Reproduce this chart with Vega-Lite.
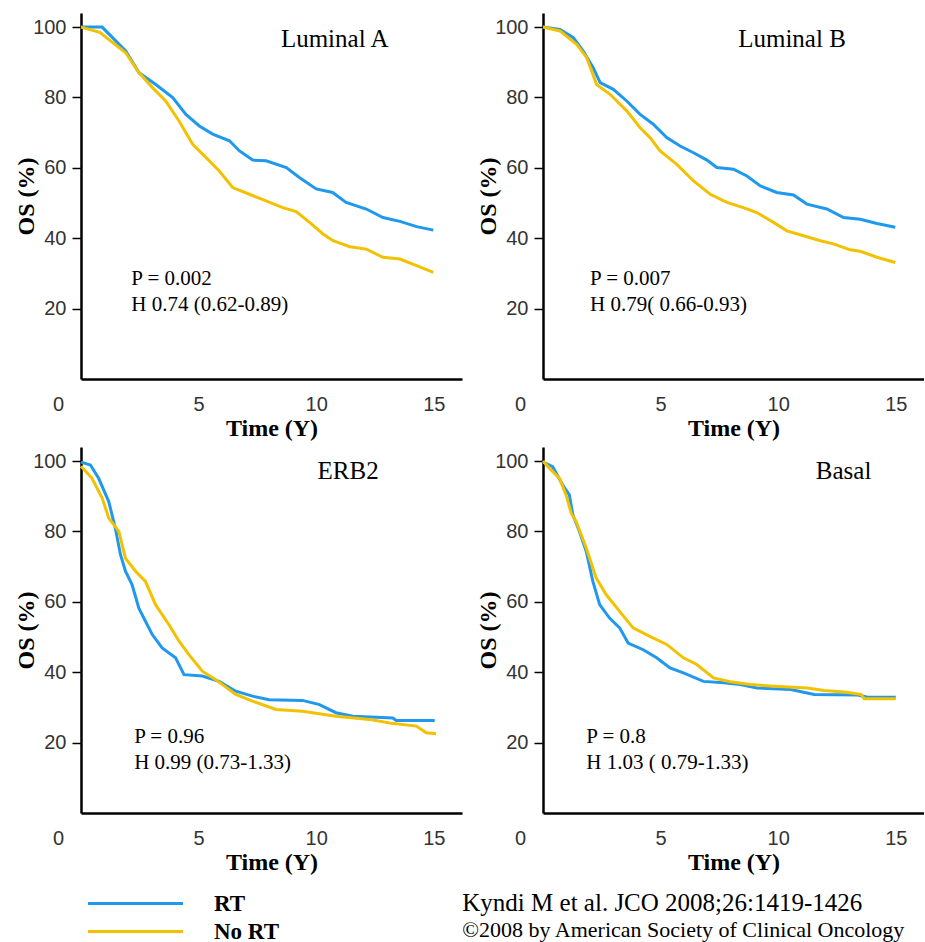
{
 "$schema": "https://vega.github.io/schema/vega-lite/v6.json",
 "padding": {"left": 14, "top": 12, "right": 0, "bottom": 0},
 "background": "white",
 "datasets": {
  "km": [
   {"p":"Luminal A","g":"RT","t":0,"s":100},{"p":"Luminal A","g":"RT","t":0.9,"s":100},{"p":"Luminal A","g":"RT","t":1.9,"s":93.2},{"p":"Luminal A","g":"RT","t":2.47,"s":87},{"p":"Luminal A","g":"RT","t":3.18,"s":83.7},{"p":"Luminal A","g":"RT","t":3.9,"s":80},{"p":"Luminal A","g":"RT","t":4.46,"s":75.2},{"p":"Luminal A","g":"RT","t":5.03,"s":71.9},{"p":"Luminal A","g":"RT","t":5.6,"s":69.6},{"p":"Luminal A","g":"RT","t":6.31,"s":67.7},{"p":"Luminal A","g":"RT","t":6.74,"s":64.8},{"p":"Luminal A","g":"RT","t":7.3,"s":62.2},{"p":"Luminal A","g":"RT","t":7.87,"s":62},{"p":"Luminal A","g":"RT","t":8.73,"s":60.1},{"p":"Luminal A","g":"RT","t":9.3,"s":57.2},{"p":"Luminal A","g":"RT","t":10.0,"s":54},{"p":"Luminal A","g":"RT","t":10.7,"s":53},{"p":"Luminal A","g":"RT","t":11.27,"s":50.2},{"p":"Luminal A","g":"RT","t":12.13,"s":48.3},{"p":"Luminal A","g":"RT","t":12.84,"s":45.9},{"p":"Luminal A","g":"RT","t":13.56,"s":44.8},{"p":"Luminal A","g":"RT","t":14.27,"s":43.3},{"p":"Luminal A","g":"RT","t":14.98,"s":42.3},
   {"p":"Luminal B","g":"RT","t":0,"s":100},{"p":"Luminal B","g":"RT","t":0.72,"s":99.3},{"p":"Luminal B","g":"RT","t":1.29,"s":97},{"p":"Luminal B","g":"RT","t":1.71,"s":93.2},{"p":"Luminal B","g":"RT","t":2.14,"s":88.4},{"p":"Luminal B","g":"RT","t":2.43,"s":84.2},{"p":"Luminal B","g":"RT","t":2.99,"s":82.3},{"p":"Luminal B","g":"RT","t":3.56,"s":79},{"p":"Luminal B","g":"RT","t":4.13,"s":75.2},{"p":"Luminal B","g":"RT","t":4.69,"s":72.4},{"p":"Luminal B","g":"RT","t":5.26,"s":68.6},{"p":"Luminal B","g":"RT","t":5.83,"s":66.2},{"p":"Luminal B","g":"RT","t":6.4,"s":64.3},{"p":"Luminal B","g":"RT","t":6.97,"s":62.2},{"p":"Luminal B","g":"RT","t":7.39,"s":60.1},{"p":"Luminal B","g":"RT","t":8.1,"s":59.6},{"p":"Luminal B","g":"RT","t":8.67,"s":57.7},{"p":"Luminal B","g":"RT","t":9.23,"s":54.9},{"p":"Luminal B","g":"RT","t":9.94,"s":53},{"p":"Luminal B","g":"RT","t":10.65,"s":52.3},{"p":"Luminal B","g":"RT","t":11.22,"s":49.7},{"p":"Luminal B","g":"RT","t":12.07,"s":48.3},{"p":"Luminal B","g":"RT","t":12.78,"s":45.9},{"p":"Luminal B","g":"RT","t":13.49,"s":45.4},{"p":"Luminal B","g":"RT","t":14.2,"s":44.2},{"p":"Luminal B","g":"RT","t":14.98,"s":43.1},
   {"p":"ERB2","g":"RT","t":0,"s":99.7},{"p":"ERB2","g":"RT","t":0.4,"s":98.9},{"p":"ERB2","g":"RT","t":0.75,"s":95.1},{"p":"ERB2","g":"RT","t":1.18,"s":88.5},{"p":"ERB2","g":"RT","t":1.46,"s":80.9},{"p":"ERB2","g":"RT","t":1.68,"s":73.4},{"p":"ERB2","g":"RT","t":1.89,"s":68.7},{"p":"ERB2","g":"RT","t":2.17,"s":64.9},{"p":"ERB2","g":"RT","t":2.46,"s":58.2},{"p":"ERB2","g":"RT","t":2.74,"s":54.5},{"p":"ERB2","g":"RT","t":3.03,"s":50.7},{"p":"ERB2","g":"RT","t":3.45,"s":46.9},{"p":"ERB2","g":"RT","t":4.02,"s":44.1},{"p":"ERB2","g":"RT","t":4.38,"s":39.3},{"p":"ERB2","g":"RT","t":5.16,"s":38.9},{"p":"ERB2","g":"RT","t":5.87,"s":37.4},{"p":"ERB2","g":"RT","t":6.58,"s":34.6},{"p":"ERB2","g":"RT","t":7.29,"s":33.2},{"p":"ERB2","g":"RT","t":8.0,"s":32.2},{"p":"ERB2","g":"RT","t":9.42,"s":32.0},{"p":"ERB2","g":"RT","t":10.14,"s":30.8},{"p":"ERB2","g":"RT","t":10.84,"s":28.5},{"p":"ERB2","g":"RT","t":11.56,"s":27.5},{"p":"ERB2","g":"RT","t":13.26,"s":27.0},{"p":"ERB2","g":"RT","t":13.4,"s":26.3},{"p":"ERB2","g":"RT","t":15.04,"s":26.3},
   {"p":"Basal","g":"RT","t":0,"s":99.7},{"p":"Basal","g":"RT","t":0.41,"s":98.4},{"p":"Basal","g":"RT","t":0.84,"s":93.2},{"p":"Basal","g":"RT","t":1.12,"s":90.4},{"p":"Basal","g":"RT","t":1.27,"s":84.7},{"p":"Basal","g":"RT","t":1.55,"s":80},{"p":"Basal","g":"RT","t":1.84,"s":74.3},{"p":"Basal","g":"RT","t":2.12,"s":65.8},{"p":"Basal","g":"RT","t":2.41,"s":59.2},{"p":"Basal","g":"RT","t":2.83,"s":55.4},{"p":"Basal","g":"RT","t":3.26,"s":52.6},{"p":"Basal","g":"RT","t":3.62,"s":48.3},{"p":"Basal","g":"RT","t":4.26,"s":46.4},{"p":"Basal","g":"RT","t":4.83,"s":44.1},{"p":"Basal","g":"RT","t":5.4,"s":41.2},{"p":"Basal","g":"RT","t":5.97,"s":39.8},{"p":"Basal","g":"RT","t":6.82,"s":37.4},{"p":"Basal","g":"RT","t":7.68,"s":37},{"p":"Basal","g":"RT","t":8.39,"s":36.5},{"p":"Basal","g":"RT","t":9.1,"s":35.5},{"p":"Basal","g":"RT","t":10.53,"s":35.1},{"p":"Basal","g":"RT","t":11.53,"s":33.7},{"p":"Basal","g":"RT","t":13.38,"s":33.5},{"p":"Basal","g":"RT","t":13.8,"s":32.9},{"p":"Basal","g":"RT","t":15.0,"s":32.9},
   {"p":"Luminal A","g":"No RT","t":0,"s":100},{"p":"Luminal A","g":"No RT","t":0.8,"s":98.5},{"p":"Luminal A","g":"No RT","t":1.9,"s":92.7},{"p":"Luminal A","g":"No RT","t":2.47,"s":87},{"p":"Luminal A","g":"No RT","t":3.04,"s":82.8},{"p":"Luminal A","g":"No RT","t":3.6,"s":79},{"p":"Luminal A","g":"No RT","t":4.17,"s":73.3},{"p":"Luminal A","g":"No RT","t":4.75,"s":66.7},{"p":"Luminal A","g":"No RT","t":5.32,"s":62.9},{"p":"Luminal A","g":"No RT","t":5.88,"s":59.1},{"p":"Luminal A","g":"No RT","t":6.45,"s":54.4},{"p":"Luminal A","g":"No RT","t":7.16,"s":52.5},{"p":"Luminal A","g":"No RT","t":7.87,"s":50.6},{"p":"Luminal A","g":"No RT","t":8.58,"s":48.7},{"p":"Luminal A","g":"No RT","t":9.15,"s":47.6},{"p":"Luminal A","g":"No RT","t":9.72,"s":44.5},{"p":"Luminal A","g":"No RT","t":10.29,"s":41.2},{"p":"Luminal A","g":"No RT","t":10.72,"s":39.3},{"p":"Luminal A","g":"No RT","t":11.43,"s":37.6},{"p":"Luminal A","g":"No RT","t":12.13,"s":36.9},{"p":"Luminal A","g":"No RT","t":12.84,"s":34.6},{"p":"Luminal A","g":"No RT","t":13.56,"s":34.1},{"p":"Luminal A","g":"No RT","t":14.27,"s":32.2},{"p":"Luminal A","g":"No RT","t":14.98,"s":30.3},
   {"p":"Luminal B","g":"No RT","t":0,"s":100},{"p":"Luminal B","g":"No RT","t":0.72,"s":98.9},{"p":"Luminal B","g":"No RT","t":1.43,"s":95.1},{"p":"Luminal B","g":"No RT","t":1.86,"s":91.3},{"p":"Luminal B","g":"No RT","t":2.28,"s":83.7},{"p":"Luminal B","g":"No RT","t":2.85,"s":80.9},{"p":"Luminal B","g":"No RT","t":3.56,"s":76.2},{"p":"Luminal B","g":"No RT","t":4.13,"s":71.4},{"p":"Luminal B","g":"No RT","t":4.55,"s":68.6},{"p":"Luminal B","g":"No RT","t":4.98,"s":64.8},{"p":"Luminal B","g":"No RT","t":5.69,"s":61},{"p":"Luminal B","g":"No RT","t":6.4,"s":56.3},{"p":"Luminal B","g":"No RT","t":7.11,"s":52.5},{"p":"Luminal B","g":"No RT","t":7.82,"s":50.2},{"p":"Luminal B","g":"No RT","t":8.52,"s":48.7},{"p":"Luminal B","g":"No RT","t":9.09,"s":47.3},{"p":"Luminal B","g":"No RT","t":9.8,"s":44.5},{"p":"Luminal B","g":"No RT","t":10.37,"s":42.1},{"p":"Luminal B","g":"No RT","t":11.08,"s":40.7},{"p":"Luminal B","g":"No RT","t":11.79,"s":39.3},{"p":"Luminal B","g":"No RT","t":12.35,"s":38.4},{"p":"Luminal B","g":"No RT","t":13.06,"s":36.7},{"p":"Luminal B","g":"No RT","t":13.49,"s":36.3},{"p":"Luminal B","g":"No RT","t":14.2,"s":34.6},{"p":"Luminal B","g":"No RT","t":14.98,"s":33.1},
   {"p":"ERB2","g":"No RT","t":0,"s":98.5},{"p":"ERB2","g":"No RT","t":0.47,"s":95.1},{"p":"ERB2","g":"No RT","t":0.9,"s":89.5},{"p":"ERB2","g":"No RT","t":1.18,"s":83.8},{"p":"ERB2","g":"No RT","t":1.61,"s":80},{"p":"ERB2","g":"No RT","t":1.89,"s":72.4},{"p":"ERB2","g":"No RT","t":2.32,"s":68.7},{"p":"ERB2","g":"No RT","t":2.74,"s":65.8},{"p":"ERB2","g":"No RT","t":3.17,"s":59.2},{"p":"ERB2","g":"No RT","t":3.74,"s":53.5},{"p":"ERB2","g":"No RT","t":4.17,"s":48.8},{"p":"ERB2","g":"No RT","t":4.59,"s":45},{"p":"ERB2","g":"No RT","t":5.16,"s":40.3},{"p":"ERB2","g":"No RT","t":5.73,"s":37.9},{"p":"ERB2","g":"No RT","t":6.58,"s":33.7},{"p":"ERB2","g":"No RT","t":7.29,"s":31.8},{"p":"ERB2","g":"No RT","t":8.29,"s":29.4},{"p":"ERB2","g":"No RT","t":9.42,"s":28.9},{"p":"ERB2","g":"No RT","t":10.84,"s":27.5},{"p":"ERB2","g":"No RT","t":12.27,"s":26.6},{"p":"ERB2","g":"No RT","t":13.12,"s":25.6},{"p":"ERB2","g":"No RT","t":14.26,"s":24.7},{"p":"ERB2","g":"No RT","t":14.68,"s":22.8},{"p":"ERB2","g":"No RT","t":15.1,"s":22.5},
   {"p":"Basal","g":"No RT","t":0,"s":100},{"p":"Basal","g":"No RT","t":0.27,"s":98},{"p":"Basal","g":"No RT","t":0.7,"s":95.1},{"p":"Basal","g":"No RT","t":0.98,"s":90.4},{"p":"Basal","g":"No RT","t":1.2,"s":85.2},{"p":"Basal","g":"No RT","t":1.41,"s":82.8},{"p":"Basal","g":"No RT","t":1.84,"s":75.3},{"p":"Basal","g":"No RT","t":2.26,"s":66.8},{"p":"Basal","g":"No RT","t":2.69,"s":62},{"p":"Basal","g":"No RT","t":3.26,"s":57.3},{"p":"Basal","g":"No RT","t":3.83,"s":52.6},{"p":"Basal","g":"No RT","t":4.54,"s":50.2},{"p":"Basal","g":"No RT","t":5.26,"s":47.9},{"p":"Basal","g":"No RT","t":5.97,"s":44.1},{"p":"Basal","g":"No RT","t":6.54,"s":42.2},{"p":"Basal","g":"No RT","t":7.25,"s":38.4},{"p":"Basal","g":"No RT","t":7.96,"s":37.3},{"p":"Basal","g":"No RT","t":8.82,"s":36.5},{"p":"Basal","g":"No RT","t":9.82,"s":36},{"p":"Basal","g":"No RT","t":11.24,"s":35.5},{"p":"Basal","g":"No RT","t":11.95,"s":34.8},{"p":"Basal","g":"No RT","t":12.81,"s":34.4},{"p":"Basal","g":"No RT","t":13.52,"s":33.7},{"p":"Basal","g":"No RT","t":13.66,"s":32.5},{"p":"Basal","g":"No RT","t":15.0,"s":32.5},
   {"p":"Luminal A","k":"name","t":8.5,"s":96.6,"txt":"Luminal A"},
   {"p":"Luminal A","k":"stat","t":2.14,"s":28.5,"txt":"P = 0.002"},
   {"p":"Luminal A","k":"stat","t":2.14,"s":20.9,"txt":"H 0.74 (0.62-0.89)"},
   {"p":"Luminal B","k":"name","t":8.3,"s":96.6,"txt":"Luminal B"},
   {"p":"Luminal B","k":"stat","t":2.0,"s":28.5,"txt":"P = 0.007"},
   {"p":"Luminal B","k":"stat","t":2.0,"s":20.9,"txt":"H 0.79( 0.66-0.93)"},
   {"p":"ERB2","k":"name","t":10.06,"s":97.3,"txt":"ERB2"},
   {"p":"ERB2","k":"stat","t":2.26,"s":21.6,"txt":"P = 0.96"},
   {"p":"ERB2","k":"stat","t":2.26,"s":14.2,"txt":"H 0.99 (0.73-1.33)"},
   {"p":"Basal","k":"name","t":11.6,"s":97.3,"txt":"Basal"},
   {"p":"Basal","k":"stat","t":1.84,"s":21.6,"txt":"P = 0.8"},
   {"p":"Basal","k":"stat","t":1.84,"s":14.2,"txt":"H 1.03 ( 0.79-1.33)"}
  ]
 },
 "data": {"name": "km"},
 "facet": {"field": "p", "type": "nominal", "sort": ["Luminal A", "Luminal B", "ERB2", "Basal"], "title": null,
  "header": {"labels": false, "title": null, "labelPadding": 0, "titlePadding": 0, "labelFontSize": 0.01, "labelColor": "transparent", "labelExpr": "''"}},
 "columns": 2,
 "spacing": {"row": 6, "column": 14},
 "resolve": {"axis": {"x": "independent", "y": "independent"}},
 "spec": {
  "width": 381,
  "height": 366,
  "layer": [
   {
    "transform": [{"filter": "datum.g != null"}],
    "mark": {"type": "line", "strokeWidth": 3, "interpolate": "linear"},
    "encoding": {
     "x": {"field": "t", "type": "quantitative", "scale": {"domain": [0, 16.2], "nice": false, "zero": false},
      "axis": {"title": "Time (Y)", "values": [0, 5, 10, 15], "ticks": false, "grid": false, "labelPadding": 15, "labelFlush": false,
       "labelOffset": {"condition": {"test": "datum.value === 0", "value": -23}, "value": 0},
       "labelFont": "Liberation Sans", "labelFontSize": 20, "labelColor": "#333333",
       "domainColor": "black", "domainWidth": 2.5,
       "titleFont": "Liberation Serif", "titleFontWeight": "bold", "titleFontSize": 24, "titleColor": "black", "titlePadding": 2}},
     "y": {"field": "s", "type": "quantitative", "scale": {"domain": [0, 104], "nice": false},
      "axis": {"title": "OS (%)", "values": [20, 40, 60, 80, 100], "grid": false, "tickSize": 9, "tickWidth": 1.5, "tickColor": "black", "labelPadding": 6,
       "labelFont": "Liberation Sans", "labelFontSize": 20, "labelColor": "#333333",
       "domainColor": "black", "domainWidth": 2.5,
       "titleFont": "Liberation Serif", "titleFontWeight": "bold", "titleFontSize": 24, "titleColor": "black", "titlePadding": -6}},
     "color": {"field": "g", "type": "nominal", "scale": {"domain": ["RT", "No RT"], "range": ["#1F98EE", "#F2C100"]},
      "legend": {"orient": "none", "legendX": 43, "legendY": 879, "title": null, "symbolType": "M-5,0H5", "symbolSize": 361, "symbolStrokeWidth": 3,
       "labelFont": "Liberation Serif", "labelFontWeight": "bold", "labelFontSize": 23, "labelColor": "black", "labelOffset": 67, "rowPadding": 4, "padding": 0}}
    }
   },
   {
    "transform": [{"filter": "datum.k == 'name'"}],
    "mark": {"type": "text", "align": "left", "baseline": "middle", "font": "Liberation Serif", "fontSize": 25, "color": "black"},
    "encoding": {
     "x": {"field": "t", "type": "quantitative", "scale": {"domain": [0, 16.2], "nice": false, "zero": false}},
     "y": {"field": "s", "type": "quantitative", "scale": {"domain": [0, 104], "nice": false}},
     "text": {"field": "txt"}
    }
   },
   {
    "transform": [{"filter": "datum.k == 'stat'"}],
    "mark": {"type": "text", "align": "left", "baseline": "middle", "font": "Liberation Serif", "fontSize": 21, "color": "black"},
    "encoding": {
     "x": {"field": "t", "type": "quantitative", "scale": {"domain": [0, 16.2], "nice": false, "zero": false}},
     "y": {"field": "s", "type": "quantitative", "scale": {"domain": [0, 104], "nice": false}},
     "text": {"field": "txt"}
    }
   }
  ]
 },
 "title": {"text": "Kyndi M et al. JCO 2008;26:1419-1426", "subtitle": "©2008 by American Society of Clinical Oncology",
  "orient": "bottom", "anchor": "middle", "align": "left", "frame": "bounds", "offset": -53, "dx": -7,
  "font": "Liberation Serif", "fontSize": 25, "fontWeight": "normal", "color": "black",
  "subtitleFont": "Liberation Serif", "subtitleFontSize": 22, "subtitleColor": "black", "subtitlePadding": 4},
 "config": {"view": {"stroke": null}, "font": "Liberation Serif", "header": {"labels": false, "title": null}, "headerFacet": {"labels": false, "title": null}}
}
